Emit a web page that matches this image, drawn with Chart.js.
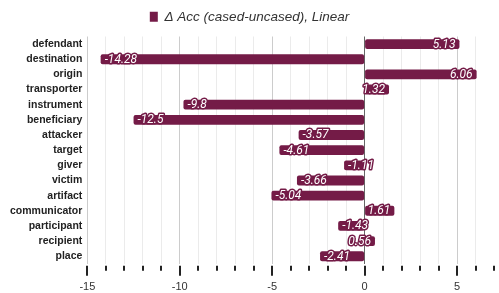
<!DOCTYPE html>
<html>
<head>
<meta charset="utf-8">
<script src="https://cdn.jsdelivr.net/npm/chart.js@4"></script>
<style>
  body { margin: 0; background: #fff; }
  #wrap { width: 499px; height: 293px; }
</style>
</head>
<body>
<div id="wrap"><canvas id="chart" width="499" height="293"></canvas></div>
<script>
// categories and values
const roles = ["defendant", "destination", "origin", "transporter", "instrument", "beneficiary",
  "attacker", "target", "giver", "victim", "artifact", "communicator", "participant", "recipient", "place"];
const deltaAcc = [5.13, -14.28, 6.06, 1.32, -9.8, -12.5, -3.57, -4.61, -1.11, -3.66, -5.04, 1.61, -1.43, 0.56, -2.41];
const seriesName = "\u0394 Acc (cased-uncased), Linear";
const xMin = -15, xMax = 7;

const barColor = "#741b47";

// data labels at the end of each bar, white with a dark outline
const barLabels = {
  id: "barLabels",
  afterDatasetsDraw(chart) {
    const ctx = chart.ctx;
    const meta = chart.getDatasetMeta(0);
    ctx.save();
    ctx.font = "italic 12px Roboto";
    ctx.textBaseline = "middle";
    ctx.lineJoin = "round";
    meta.data.forEach((bar, i) => {
      const v = deltaAcc[i];
      const txt = String(v);
      let x;
      if (v >= 0) { ctx.textAlign = "right"; x = bar.x - 4; }
      else { ctx.textAlign = "left"; x = bar.x + 4; }
      ctx.lineWidth = 3;
      ctx.strokeStyle = barColor;
      ctx.strokeText(txt, x, bar.y + 0.5);
      ctx.fillStyle = "#fff";
      ctx.fillText(txt, x, bar.y + 0.5);
    });
    ctx.restore();
  }
};

// major / minor tick marks under the x axis
const tickMarks = {
  id: "tickMarks",
  afterDraw(chart) {
    const ctx = chart.ctx;
    const scale = chart.scales.x;
    const bottom = chart.chartArea.bottom;
    ctx.save();
    ctx.strokeStyle = "#222";
    scale.ticks.forEach(t => {
      const x = Math.round(scale.getPixelForValue(t.value));
      const major = t.value % 5 === 0;
      ctx.lineWidth = 2;
      ctx.beginPath();
      ctx.moveTo(x, bottom + 2);
      ctx.lineTo(x, bottom + (major ? 12 : 7));
      ctx.stroke();
    });
    ctx.restore();
  }
};

// a bit more room under the legend
const legendGap = {
  id: "legendGap",
  beforeInit(chart) {
    const fit = chart.legend.fit;
    chart.legend.fit = function () {
      fit.bind(chart.legend)();
      this.height += 3;
    };
  }
};

Chart.defaults.font.family = "'Liberation Sans', Arial, sans-serif";

new Chart(document.getElementById("chart"), {
  type: "bar",
  data: {
    labels: roles,
    datasets: [{
      label: seriesName,
      data: deltaAcc,
      backgroundColor: barColor,
      borderRadius: 2,
      borderSkipped: false,
      barPercentage: 0.65,
      categoryPercentage: 1
    }]
  },
  options: {
    indexAxis: "y",
    responsive: false,
    animation: false,
    layout: { padding: { left: 5, right: 5, top: 0, bottom: -18 } },
    plugins: {
      legend: {
        position: "top",
        labels: {
          boxWidth: 8,
          boxHeight: 10,
          color: "#333",
          font: { size: 13.5, style: "italic" },
          padding: 10
        }
      },
      tooltip: { enabled: false }
    },
    scales: {
      x: {
        min: xMin,
        max: xMax,
        border: { display: false },
        // tick padding should only push the labels down, not squeeze the sides
        afterFit: s => { s.paddingLeft = 0; s.paddingRight = 0; },
        grid: {
          drawTicks: false,
          color: c => {
            const v = c.tick.value;
            if (v === 0) return "#666";
            if (v === xMax) return "rgba(0,0,0,0)";
            return v % 5 === 0 ? "#cccccc" : "#ebebeb";
          }
        },
        ticks: {
          stepSize: 1,
          autoSkip: false,
          maxRotation: 0,
          padding: 17,
          color: "#333",
          font: { size: 11 },
          callback: v => (v % 5 === 0 ? String(v) : "")
        }
      },
      y: {
        border: { display: false },
        grid: { display: false, drawTicks: false },
        ticks: {
          autoSkip: false,
          padding: 5,
          color: "#222",
          font: { size: 10.5, weight: "bold" }
        }
      }
    }
  },
  plugins: [barLabels, tickMarks, legendGap]
});
</script>
</body>
</html>
